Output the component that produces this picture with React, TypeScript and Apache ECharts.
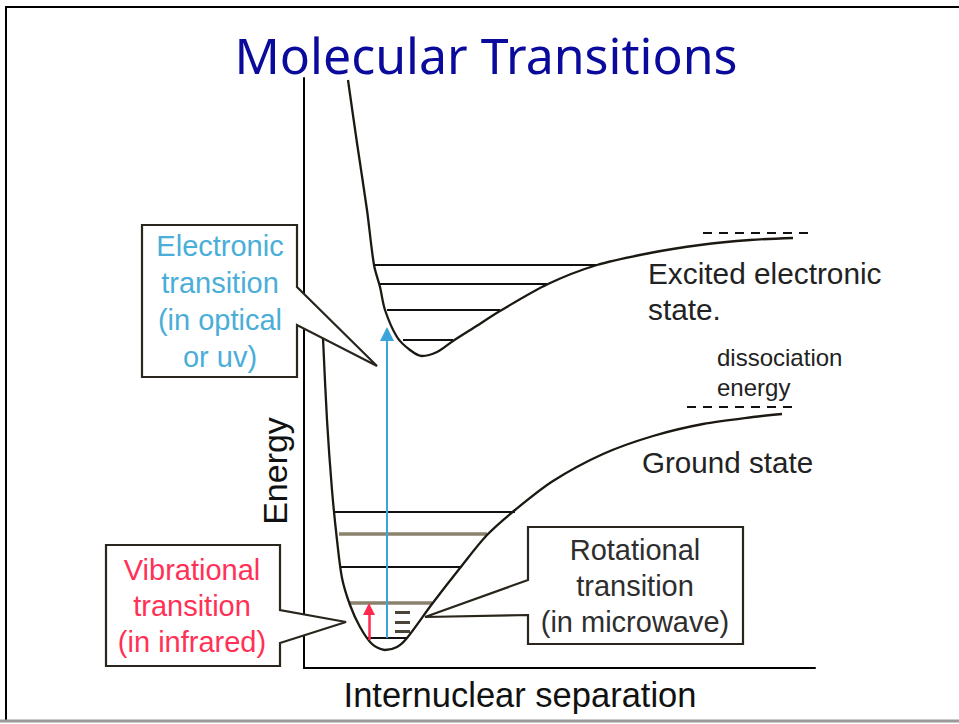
import React, { useEffect, useRef } from "react";
import * as echarts from "echarts";

// Axis units: x = internuclear separation, y = energy (origin at the axes' corner)
const excitedCurve: number[][] = [
  [44, 588], [53, 525], [63, 458], [70, 403], [76, 381], [81, 358], [93, 331], [106, 318],
  [118, 312], [133, 316], [149, 327], [171, 341], [196, 357], [244, 384], [293, 403],
  [346, 415], [396, 423], [446, 428], [489, 430],
];
const groundCurve: number[][] = [
  [19, 330], [23, 248], [28, 178], [33, 128], [38, 90], [46, 63], [56, 41], [68, 24],
  [81, 18], [93, 21], [103, 30], [128, 64], [156, 100], [183, 133], [211, 158],
  [249, 187], [299, 214], [349, 232], [399, 244], [449, 251], [478, 254],
];
// [xStart, xEnd, energy]
const excitedLevels: number[][] = [[71, 293, 403], [75, 244, 384], [83, 196, 358], [99, 149, 328]];
const groundLevelsBlack: number[][] = [[31, 211, 156], [36, 156, 101], [63, 103, 30]];
const groundLevelsGray: number[][] = [[35, 183, 134], [45, 128, 65]];
const dissociationLevels: number[][] = [[399, 504, 435], [383, 491, 261]];
const rotationalMarks: number[][] = [[91, 106, 56], [91, 106, 46], [91, 106, 37]];
// [x, yFrom, yTo]
const electronicArrow = [83, 30, 334];
const vibrationalArrow = [65, 28, 59];

const electronicText = ["Electronic", "transition", "(in optical", "or uv)"];
const vibrationalText = ["Vibrational", "transition", "(in infrared)"];
const rotationalText = ["Rotational", "transition", "(in microwave)"];

const FONT = "Liberation Sans, Arial, Helvetica, sans-serif";

function segs(arr: number[][]) {
  return arr.map((s) => ({ coords: [[s[0], s[2]], [s[1], s[2]]] }));
}

function txt(text: string, x: number, y: number, size: number, fill: string, align = "center", extra: any = {}) {
  return {
    type: "text",
    x,
    y,
    z: 20,
    ...extra,
    style: {
      text,
      font: `${size}px ${FONT}`,
      fill,
      textAlign: align,
      align,
      textVerticalAlign: "middle",
      verticalAlign: "middle",
    },
  };
}

export default function App() {
  const ref = useRef<HTMLDivElement>(null);
  useEffect(() => {
    if (!ref.current) return;
    const chart = echarts.init(ref.current, undefined, { renderer: "svg" });
    const curveStyle = { color: "#1c1912", width: 2.3 };
    const boxStyle = { fill: "#ffffff", stroke: "#2a261d", lineWidth: 2.2, lineJoin: "miter" };

    const graphics: any[] = [
      // slide frame
      { type: "line", z: 30, shape: { x1: 5, y1: 7, x2: 959, y2: 7 }, style: { stroke: "#000", lineWidth: 2 } },
      { type: "line", z: 30, shape: { x1: 6, y1: 7, x2: 6, y2: 720 }, style: { stroke: "#000", lineWidth: 2 } },
      { type: "line", z: 30, shape: { x1: 0, y1: 721, x2: 959, y2: 721 }, style: { stroke: "#9a9a9a", lineWidth: 3 } },
      // callouts
      {
        type: "polygon", z: 10,
        shape: { points: [[142, 225], [297, 225], [297, 287], [377, 366], [297, 325], [297, 377], [142, 377]] },
        style: boxStyle,
      },
      {
        type: "polygon", z: 10,
        shape: { points: [[106, 545], [280, 545], [280, 610], [346, 622], [280, 643], [280, 666], [106, 666]] },
        style: boxStyle,
      },
      {
        type: "polygon", z: 10,
        shape: { points: [[528, 527], [743, 527], [743, 644], [528, 644], [528, 615], [425, 617], [528, 580]] },
        style: boxStyle,
      },
      {
        type: "text", x: 486, y: 55, z: 20,
        style: {
          text: "Molecular Transitions",
          font: "50px 'Noto Sans', 'Open Sans', sans-serif",
          fill: "#0a0a9c",
          textAlign: "center", align: "center",
          textVerticalAlign: "middle", verticalAlign: "middle",
        },
      },
      txt("Excited electronic", 648, 273, 29.8, "#222", "left"),
      txt("state.", 648, 309, 29.8, "#222", "left"),
      txt("dissociation", 717, 357, 24, "#222", "left"),
      txt("energy", 717, 387, 24, "#222", "left"),
      txt("Ground state", 642, 462, 29.6, "#222", "left"),
      txt("Internuclear separation", 520, 695, 34.5, "#111", "center"),
      txt("Energy", 275, 471, 34, "#111", "center", { rotation: Math.PI / 2 }),
    ];
    electronicText.forEach((t, i) => graphics.push(txt(t, 220, 246 + i * 37, 29, "#4aaed8")));
    vibrationalText.forEach((t, i) => graphics.push(txt(t, 192, 570 + i * 36, 29, "#ff3156")));
    rotationalText.forEach((t, i) => graphics.push(txt(t, 635, 550 + i * 36, 29, "#2e2e2e")));

    chart.setOption({
      animation: false,
      backgroundColor: "#ffffff",
      grid: { left: 304, top: 78, width: 511, height: 590 },
      xAxis: {
        type: "value", min: 0, max: 511,
        axisLine: { show: true, lineStyle: { color: "#000", width: 2 } },
        axisTick: { show: false }, axisLabel: { show: false }, splitLine: { show: false },
      },
      yAxis: {
        type: "value", min: 0, max: 590,
        axisLine: { show: true, lineStyle: { color: "#000", width: 2 } },
        axisTick: { show: false }, axisLabel: { show: false }, splitLine: { show: false },
      },
      series: [
        { type: "line", data: excitedCurve, smooth: 0.3, showSymbol: false, lineStyle: curveStyle, z: 3 },
        { type: "line", data: groundCurve, smooth: 0.3, showSymbol: false, lineStyle: curveStyle, z: 3 },
        {
          type: "lines", coordinateSystem: "cartesian2d", data: segs(excitedLevels),
          lineStyle: { color: "#111", width: 2, opacity: 1 }, z: 2,
        },
        {
          type: "lines", coordinateSystem: "cartesian2d", data: segs(groundLevelsBlack),
          lineStyle: { color: "#111", width: 2, opacity: 1 }, z: 2,
        },
        {
          type: "lines", coordinateSystem: "cartesian2d", data: segs(groundLevelsGray),
          lineStyle: { color: "#8a826c", width: 3.5, opacity: 1 }, z: 2,
        },
        {
          type: "lines", coordinateSystem: "cartesian2d", data: segs(dissociationLevels),
          lineStyle: { color: "#111", width: 2, type: [9, 7], opacity: 1 }, z: 2,
        },
        {
          type: "lines", coordinateSystem: "cartesian2d", data: segs(rotationalMarks),
          lineStyle: { color: "#4a4538", width: 3, opacity: 1 }, z: 2,
        },
        {
          type: "lines", coordinateSystem: "cartesian2d",
          data: [{ coords: [[electronicArrow[0], electronicArrow[1]], [electronicArrow[0], electronicArrow[2]]] }],
          symbol: ["none", "triangle"], symbolSize: 14,
          lineStyle: { color: "#39a5dc", width: 2, opacity: 1 }, itemStyle: { color: "#39a5dc" }, z: 4,
        },
        {
          type: "lines", coordinateSystem: "cartesian2d",
          data: [{ coords: [[vibrationalArrow[0], vibrationalArrow[1]], [vibrationalArrow[0], vibrationalArrow[2]]] }],
          symbol: ["none", "triangle"], symbolSize: 12,
          lineStyle: { color: "#ff2a4e", width: 2.5, opacity: 1 }, itemStyle: { color: "#ff2a4e" }, z: 4,
        },
      ],
      graphic: { elements: graphics },
    });
    return () => chart.dispose();
  }, []);
  return (
    <div
      ref={ref}
      style={{ position: "fixed", left: 0, top: 0, width: 959, height: 724, background: "#fff" }}
    />
  );
}
